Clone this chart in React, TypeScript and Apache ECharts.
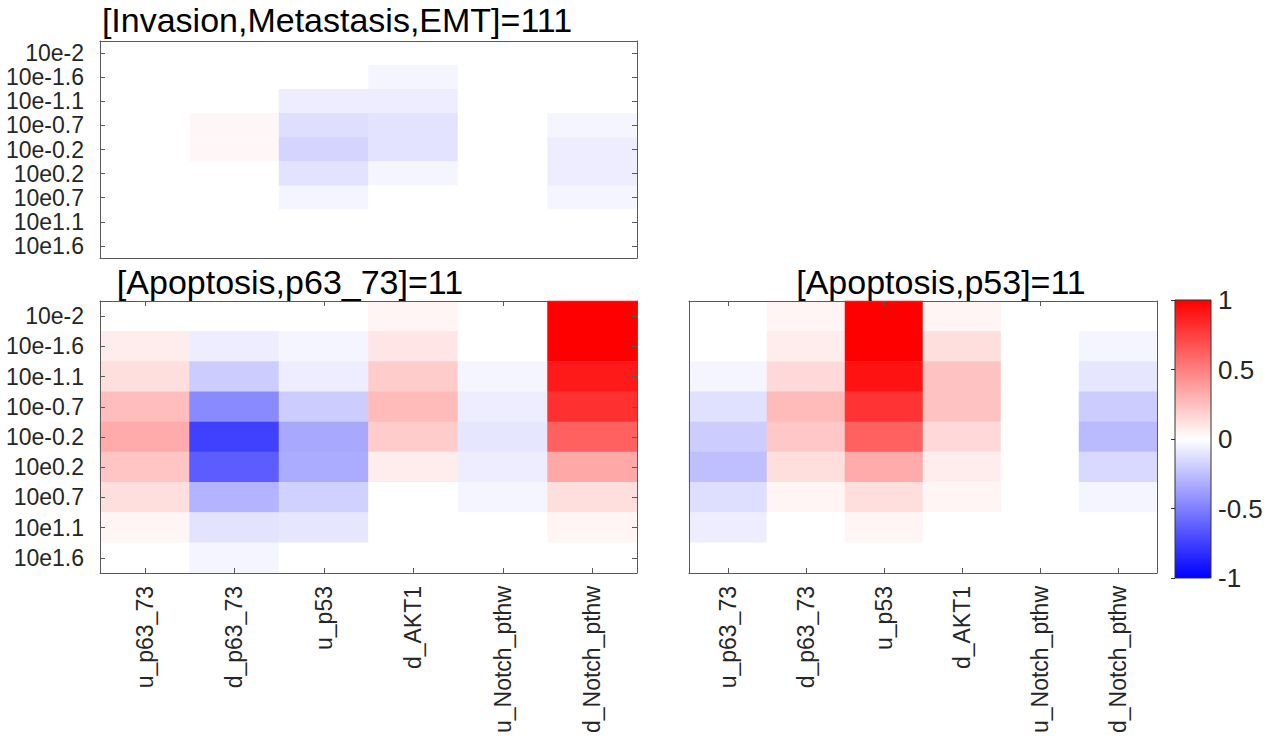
import React, { useEffect, useRef } from "react";
import * as echarts from "echarts";

const columns = ["u_p63_73", "d_p63_73", "u_p53", "d_AKT1", "u_Notch_pthw", "d_Notch_pthw"];
const rows = ["10e-2", "10e-1.6", "10e-1.1", "10e-0.7", "10e-0.2", "10e0.2", "10e0.7", "10e1.1", "10e1.6"];
const colorTicks = [-1, -0.5, 0, 0.5, 1];

const titleInvasion = "[Invasion,Metastasis,EMT]=111";
const titleP63 = "[Apoptosis,p63_73]=11";
const titleP53 = "[Apoptosis,p53]=11";

// values [row][column]
const invasionValues = [
  [0, 0, 0, 0, 0, 0],
  [0, 0, 0, -0.04, 0, 0],
  [0, 0, -0.07, -0.07, 0, 0],
  [0, 0.03, -0.13, -0.11, 0, -0.04],
  [0, 0.03, -0.17, -0.11, 0, -0.07],
  [0, 0, -0.11, -0.04, 0, -0.07],
  [0, 0, -0.04, 0, 0, -0.04],
  [0, 0, 0, 0, 0, 0],
  [0, 0, 0, 0, 0, 0],
];

const apoptosisP63Values = [
  [0, 0, 0, 0.04, 0, 1.0],
  [0.07, -0.07, -0.04, 0.1, 0, 1.0],
  [0.13, -0.2, -0.07, 0.2, -0.04, 0.9],
  [0.26, -0.46, -0.2, 0.27, -0.07, 0.81],
  [0.33, -0.75, -0.34, 0.2, -0.1, 0.62],
  [0.23, -0.64, -0.33, 0.07, -0.07, 0.34],
  [0.13, -0.3, -0.18, 0, -0.04, 0.13],
  [0.04, -0.11, -0.1, 0, 0, 0.04],
  [0, -0.04, 0, 0, 0, 0],
];

const apoptosisP53Values = [
  [0, 0.04, 1.0, 0.04, 0, 0],
  [0, 0.07, 1.0, 0.13, 0, -0.04],
  [-0.04, 0.15, 0.93, 0.24, 0, -0.1],
  [-0.12, 0.27, 0.8, 0.24, 0, -0.2],
  [-0.2, 0.22, 0.62, 0.15, 0, -0.27],
  [-0.25, 0.13, 0.33, 0.07, 0, -0.15],
  [-0.13, 0.04, 0.13, 0.04, 0, -0.04],
  [-0.07, 0, 0.04, 0, 0, 0],
  [0, 0, 0, 0, 0, 0],
];

const FONT = "Liberation Sans, Arial, Helvetica, sans-serif";
const AXIS_COLOR = "#5a5a5a";

function toCells(values: number[][]) {
  const out: number[][] = [];
  values.forEach((r, yi) => r.forEach((v, xi) => out.push([xi, yi, v])));
  return out;
}

export default function App() {
  const ref = useRef<HTMLDivElement>(null);

  useEffect(() => {
    if (!ref.current) return;
    const chart = echarts.init(ref.current, null, { renderer: "svg" });

    const grids = [
      { left: 100, top: 41, width: 537, height: 217, xTicks: false, yTicks: true, xLabels: false, yLabels: true },
      { left: 100, top: 301, width: 537, height: 272, xTicks: true, yTicks: true, xLabels: true, yLabels: true },
      { left: 689, top: 301, width: 468, height: 272, xTicks: true, yTicks: false, xLabels: true, yLabels: false },
    ];
    const datasets = [invasionValues, apoptosisP63Values, apoptosisP53Values];

    const xAxes: any[] = [];
    const yAxes: any[] = [];
    grids.forEach((g, i) => {
      const tick = { show: true, inside: true, alignWithLabel: true, length: 5, lineStyle: { color: AXIS_COLOR } };
      const line = { show: true, lineStyle: { color: AXIS_COLOR, width: 1 } };
      xAxes.push({
        type: "category", gridIndex: i, data: columns, position: "bottom", z: 10,
        axisLine: line, axisTick: { ...tick, show: g.xTicks }, splitLine: { show: false },
        axisLabel: { show: g.xLabels, rotate: 90, fontSize: 23, color: "#262626", fontFamily: FONT, margin: 13, interval: 0 },
      });
      xAxes.push({
        type: "category", gridIndex: i, data: columns, position: "top", z: 10,
        axisLine: line, axisTick: { ...tick, show: g.xTicks }, axisLabel: { show: false }, splitLine: { show: false },
      });
      yAxes.push({
        type: "category", gridIndex: i, data: rows, position: "left", inverse: true, z: 10,
        axisLine: line, axisTick: { ...tick, show: g.yTicks }, splitLine: { show: false },
        axisLabel: { show: g.yLabels, fontSize: 23, color: "#262626", fontFamily: FONT, margin: 16, interval: 0 },
      });
      yAxes.push({
        type: "category", gridIndex: i, data: rows, position: "right", inverse: true, z: 10,
        axisLine: line, axisTick: { ...tick, show: g.yTicks }, axisLabel: { show: false }, splitLine: { show: false },
      });
    });

    // colorbar axis grid
    const cbGridIndex = 3;
    xAxes.push({ type: "value", gridIndex: cbGridIndex, show: false, min: 0, max: 1 });
    yAxes.push({
      type: "value", gridIndex: cbGridIndex, position: "right", min: -1, max: 1, interval: 0.5, z: 10,
      axisLine: { show: false }, splitLine: { show: false },
      axisTick: { show: true, inside: true, length: 4, lineStyle: { color: "#333" } },
      axisLabel: { fontSize: 26, color: "#262626", fontFamily: FONT, margin: 7, customValues: colorTicks },
    });

    const series = datasets.map((d, i) => ({
      type: "heatmap",
      xAxisIndex: i * 2,
      yAxisIndex: i * 2,
      data: toCells(d),
      itemStyle: { borderWidth: 0 },
      emphasis: { disabled: true },
      z: 1,
    }));

    const titleStyle = { fontSize: 34, fontFamily: FONT, fill: "#000", textAlign: "center", textVerticalAlign: "middle" };

    chart.setOption({
      animation: false,
      backgroundColor: "#ffffff",
      grid: [
        ...grids.map((g) => ({ left: g.left, top: g.top, width: g.width, height: g.height, containLabel: false })),
        { left: 1175, top: 300, width: 36, height: 278 },
      ],
      xAxis: xAxes,
      yAxis: yAxes,
      visualMap: {
        type: "continuous",
        show: false,
        min: -1,
        max: 1,
        seriesIndex: [0, 1, 2],
        inRange: { color: ["#0000ff", "#ffffff", "#ff0000"] },
      },
      series,
      graphic: [
        { type: "text", silent: true, z: 100, style: { ...titleStyle, x: 337, y: 20, text: titleInvasion } },
        { type: "text", silent: true, z: 100, style: { ...titleStyle, x: 290, y: 282, text: titleP63 } },
        { type: "text", silent: true, z: 100, style: { ...titleStyle, x: 941, y: 282, text: titleP53 } },
        {
          type: "rect", silent: true, z: 50,
          shape: { x: 1175, y: 300, width: 36, height: 278 },
          style: {
            fill: new echarts.graphic.LinearGradient(0, 0, 0, 1, [
              { offset: 0, color: "#ff0000" },
              { offset: 0.5, color: "#ffffff" },
              { offset: 1, color: "#0000ff" },
            ]),
            stroke: "#333333",
            lineWidth: 1,
          },
        },
      ],
    });

    return () => chart.dispose();
  }, []);

  return <div ref={ref} style={{ position: "fixed", left: 0, top: 0, width: 1276, height: 745, background: "#fff" }} />;
}
